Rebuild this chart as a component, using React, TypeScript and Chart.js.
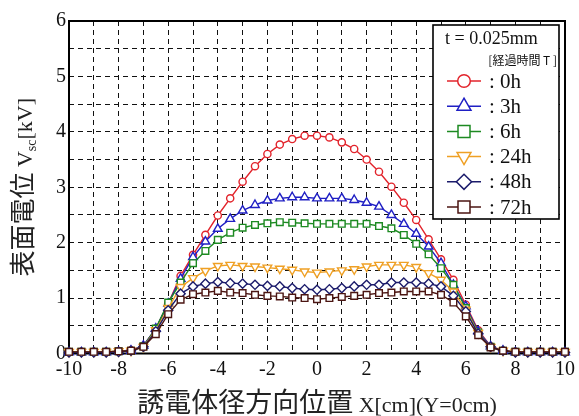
import React, { useEffect, useRef } from 'react';
import { Chart, registerables } from 'chart.js';

Chart.register(...registerables);

const xPositions = [-10, -9.5, -9, -8.5, -8, -7.5, -7, -6.5, -6, -5.5, -5, -4.5, -4, -3.5, -3, -2.5, -2, -1.5, -1, -0.5, 0, 0.5, 1, 1.5, 2, 2.5, 3, 3.5, 4, 4.5, 5, 5.5, 6, 6.5, 7, 7.5, 8, 8.5, 9, 9.5, 10];

const v0h = [0.03, 0.03, 0.03, 0.03, 0.04, 0.06, 0.14, 0.45, 0.9, 1.4, 1.78, 2.14, 2.49, 2.8, 3.1, 3.38, 3.6, 3.77, 3.87, 3.93, 3.93, 3.9, 3.81, 3.69, 3.5, 3.28, 3.01, 2.72, 2.41, 2.06, 1.7, 1.33, 0.88, 0.42, 0.13, 0.05, 0.03, 0.03, 0.03, 0.03, 0.03];
const v3h = [0.02, 0.02, 0.02, 0.02, 0.03, 0.05, 0.14, 0.45, 0.9, 1.35, 1.74, 2.02, 2.25, 2.43, 2.58, 2.68, 2.76, 2.8, 2.82, 2.82, 2.8, 2.8, 2.8, 2.77, 2.72, 2.65, 2.5, 2.34, 2.16, 1.93, 1.63, 1.24, 0.85, 0.4, 0.13, 0.05, 0.02, 0.02, 0.02, 0.02, 0.02];
const v6h = [0.03, 0.03, 0.03, 0.03, 0.04, 0.05, 0.13, 0.45, 0.92, 1.28, 1.63, 1.85, 2.05, 2.18, 2.27, 2.32, 2.35, 2.37, 2.36, 2.35, 2.34, 2.34, 2.34, 2.34, 2.34, 2.3, 2.26, 2.14, 1.98, 1.79, 1.54, 1.24, 0.82, 0.38, 0.12, 0.05, 0.03, 0.03, 0.03, 0.03, 0.03];
const v24h = [0.03, 0.03, 0.03, 0.03, 0.04, 0.05, 0.12, 0.42, 0.82, 1.2, 1.36, 1.49, 1.58, 1.6, 1.58, 1.57, 1.55, 1.53, 1.51, 1.48, 1.46, 1.48, 1.5, 1.52, 1.57, 1.6, 1.6, 1.6, 1.56, 1.45, 1.33, 1.12, 0.79, 0.37, 0.12, 0.05, 0.03, 0.03, 0.03, 0.03, 0.03];
const v48h = [0.02, 0.02, 0.02, 0.02, 0.03, 0.05, 0.12, 0.4, 0.78, 1.08, 1.21, 1.26, 1.29, 1.27, 1.26, 1.24, 1.22, 1.21, 1.18, 1.16, 1.15, 1.16, 1.18, 1.21, 1.24, 1.24, 1.28, 1.28, 1.28, 1.26, 1.21, 1.04, 0.76, 0.36, 0.12, 0.05, 0.02, 0.02, 0.02, 0.02, 0.02];
const v72h = [0.03, 0.03, 0.03, 0.03, 0.04, 0.05, 0.12, 0.35, 0.71, 0.97, 1.07, 1.1, 1.13, 1.1, 1.09, 1.06, 1.04, 1.03, 1.01, 1.0, 0.98, 1.0, 1.02, 1.04, 1.06, 1.09, 1.1, 1.12, 1.12, 1.12, 1.06, 0.92, 0.67, 0.33, 0.11, 0.05, 0.03, 0.03, 0.03, 0.03, 0.03];

const seriesLabels = [': 0h', ': 3h', ': 6h', ': 24h', ': 48h', ': 72h'];
const seriesValues = [v0h, v3h, v6h, v24h, v48h, v72h];
const seriesColors = ['#e2232b', '#1f1fc4', '#1d8a22', '#efa024', '#1b1b6b', '#4b1512'];
const seriesStyles = ['circle', 'triangle', 'rect', 'triangle', 'rectRot', 'rect'];
const seriesRotations = [0, 0, 0, 180, 0, 0];
const seriesRadius = [3.6, 5, 4.7, 5, 4.6, 4.7];

const xTickLabels = ['-10', '-8', '-6', '-4', '-2', '0', '2', '4', '6', '8', '10'];
const yTickLabels = ['0', '1', '2', '3', '4', '5', '6'];

const legendTitle = 't = 0.025mm';
const legendSubTitle = '[経過時間 T ]';
const yTitleParts = ['表面電位', ' V', 'sc', '[kV]'];
const xTitleParts = ['誘電体径方向位置', ' X[cm](Y=0cm)'];

const SERIF = "'Liberation Serif', 'Times New Roman', serif";
const CJK = "'Noto Sans CJK JP', 'Noto Sans CJK SC', sans-serif";

function drawMarker(ctx: CanvasRenderingContext2D, style: string, x: number, y: number, r: number, color: string, rot: number) {
  ctx.save();
  ctx.beginPath();
  if (style === 'circle') {
    ctx.arc(x, y, r, 0, Math.PI * 2);
  } else if (style === 'triangle') {
    const s = rot ? -1 : 1;
    const h = r * Math.sqrt(3) / 2;
    ctx.moveTo(x, y - s * r);
    ctx.lineTo(x + h, y + s * r / 2);
    ctx.lineTo(x - h, y + s * r / 2);
    ctx.closePath();
  } else if (style === 'rect') {
    ctx.rect(x - r, y - r, 2 * r, 2 * r);
  } else {
    ctx.moveTo(x, y - r);
    ctx.lineTo(x + r, y);
    ctx.lineTo(x, y + r);
    ctx.lineTo(x - r, y);
    ctx.closePath();
  }
  ctx.fillStyle = '#fff';
  ctx.fill();
  ctx.lineWidth = 1.5;
  ctx.strokeStyle = color;
  ctx.stroke();
  ctx.restore();
}

const decorPlugin = {
  id: 'decor',
  beforeDatasetsDraw(chart: any) {
    const { ctx, chartArea: a } = chart;
    ctx.save();
    ctx.strokeStyle = '#000';
    ctx.lineWidth = 2;
    ctx.strokeRect(a.left, a.top, a.right - a.left, a.bottom - a.top);
    ctx.restore();
  },
  afterDraw(chart: any) {
    const { ctx, chartArea: a } = chart;
    ctx.save();
    ctx.fillStyle = '#222';
    const cjkY = `26px ${CJK}`;
    const latY = `22px ${SERIF}`;
    const subY = `14px ${SERIF}`;
    const fonts = [cjkY, latY, subY, latY];
    const widths = yTitleParts.map((t, i) => { ctx.font = fonts[i]; return ctx.measureText(t).width; });
    const total = widths.reduce((s, w) => s + w, 0);
    ctx.translate(24, (a.top + a.bottom) / 2);
    ctx.rotate(-Math.PI / 2);
    ctx.textBaseline = 'alphabetic';
    let px = -total / 2;
    yTitleParts.forEach((t, i) => {
      ctx.font = fonts[i];
      ctx.fillText(t, px, i === 2 ? 12 : 8);
      px += widths[i];
    });
    ctx.restore();

    ctx.save();
    ctx.fillStyle = '#222';
    const xf = [`27px ${CJK}`, `22px ${SERIF}`];
    const xw = xTitleParts.map((t, i) => { ctx.font = xf[i]; return ctx.measureText(t).width; });
    const xt = xw[0] + xw[1];
    let qx = (a.left + a.right) / 2 - xt / 2;
    ctx.textBaseline = 'alphabetic';
    xTitleParts.forEach((t, i) => {
      ctx.font = xf[i];
      ctx.fillText(t, qx, 412);
      qx += xw[i];
    });
    ctx.restore();

    ctx.save();
    const bx = 433, by = 25, bw = 126, bh = 194;
    ctx.fillStyle = '#fff';
    ctx.fillRect(bx, by, bw, bh);
    ctx.strokeStyle = '#000';
    ctx.lineWidth = 1.6;
    ctx.strokeRect(bx, by, bw, bh);
    ctx.fillStyle = '#111';
    ctx.textBaseline = 'middle';
    ctx.textAlign = 'left';
    ctx.font = `18px ${SERIF}`;
    ctx.fillText(legendTitle, 445, 39);
    ctx.font = `12px ${CJK}`;
    ctx.textAlign = 'right';
    ctx.fillText(legendSubTitle, 557, 60);
    ctx.textAlign = 'left';
    const legendR = [6.3, 8, 6, 8, 7.6, 6];
    seriesLabels.forEach((lab, i) => {
      const ry = 81 + i * 25.2;
      ctx.strokeStyle = seriesColors[i];
      ctx.lineWidth = 1.5;
      ctx.beginPath();
      ctx.moveTo(447, ry);
      ctx.lineTo(481, ry);
      ctx.stroke();
      drawMarker(ctx, seriesStyles[i], 464, ry, legendR[i], seriesColors[i], seriesRotations[i]);
      ctx.fillStyle = '#111';
      ctx.font = `21px ${SERIF}`;
      ctx.fillText(lab, 489, ry + 1);
    });
    ctx.restore();
  },
};

export default function App() {
  const ref = useRef<HTMLCanvasElement | null>(null);
  useEffect(() => {
    if (!ref.current) return;
    const datasets = seriesValues.map((vals, i) => ({
      label: seriesLabels[i],
      data: vals.map((v, j) => ({ x: xPositions[j], y: v })),
      borderColor: seriesColors[i],
      backgroundColor: '#ffffff',
      borderWidth: 1.4,
      pointStyle: seriesStyles[i] as any,
      pointRotation: seriesRotations[i],
      pointRadius: seriesRadius[i],
      pointBorderWidth: 1.4,
      pointBackgroundColor: '#ffffff',
      pointBorderColor: seriesColors[i],
      tension: 0,
      clip: false as any,
      order: 6 - i,
    }));
    const chart = new Chart(ref.current, {
      type: 'line',
      data: { datasets },
      options: {
        animation: false,
        responsive: false,
        devicePixelRatio: 1,
        layout: { padding: { left: 0, right: 14, top: 21, bottom: 0 } },
        plugins: { legend: { display: false }, tooltip: { enabled: false } },
        scales: {
          x: {
            type: 'linear',
            min: -10,
            max: 10,
            ticks: {
              stepSize: 1,
              autoSkip: false,
              maxRotation: 0,
              padding: 4,
              color: '#111',
              font: { family: SERIF, size: 20 },
              callback: (v: any) => {
                const s = String(v);
                return xTickLabels.includes(s) ? s : '';
              },
            },
            grid: { color: '#111', lineWidth: 1, drawTicks: false },
            border: { display: false, dash: [5, 4] },
            afterFit: (s: any) => { s.height = 62.5; },
          },
          y: {
            type: 'linear',
            min: 0,
            max: 6,
            ticks: {
              stepSize: 0.5,
              autoSkip: false,
              padding: 3,
              color: '#111',
              font: { family: SERIF, size: 20 },
              callback: (v: any) => {
                const s = String(v);
                return yTickLabels.includes(s) ? s : '';
              },
            },
            grid: { color: '#111', lineWidth: 1, drawTicks: false },
            border: { display: false, dash: [5, 4] },
            afterFit: (s: any) => { s.width = 69; },
          },
        },
      } as any,
      plugins: [decorPlugin],
    });
    return () => chart.destroy();
  }, []);
  return (
    <div style={{ position: 'fixed', left: 0, top: 0, width: 579, height: 416, background: '#fff' }}>
      <canvas ref={ref} width={579} height={416} style={{ display: 'block', width: 579, height: 416 }} />
    </div>
  );
}
